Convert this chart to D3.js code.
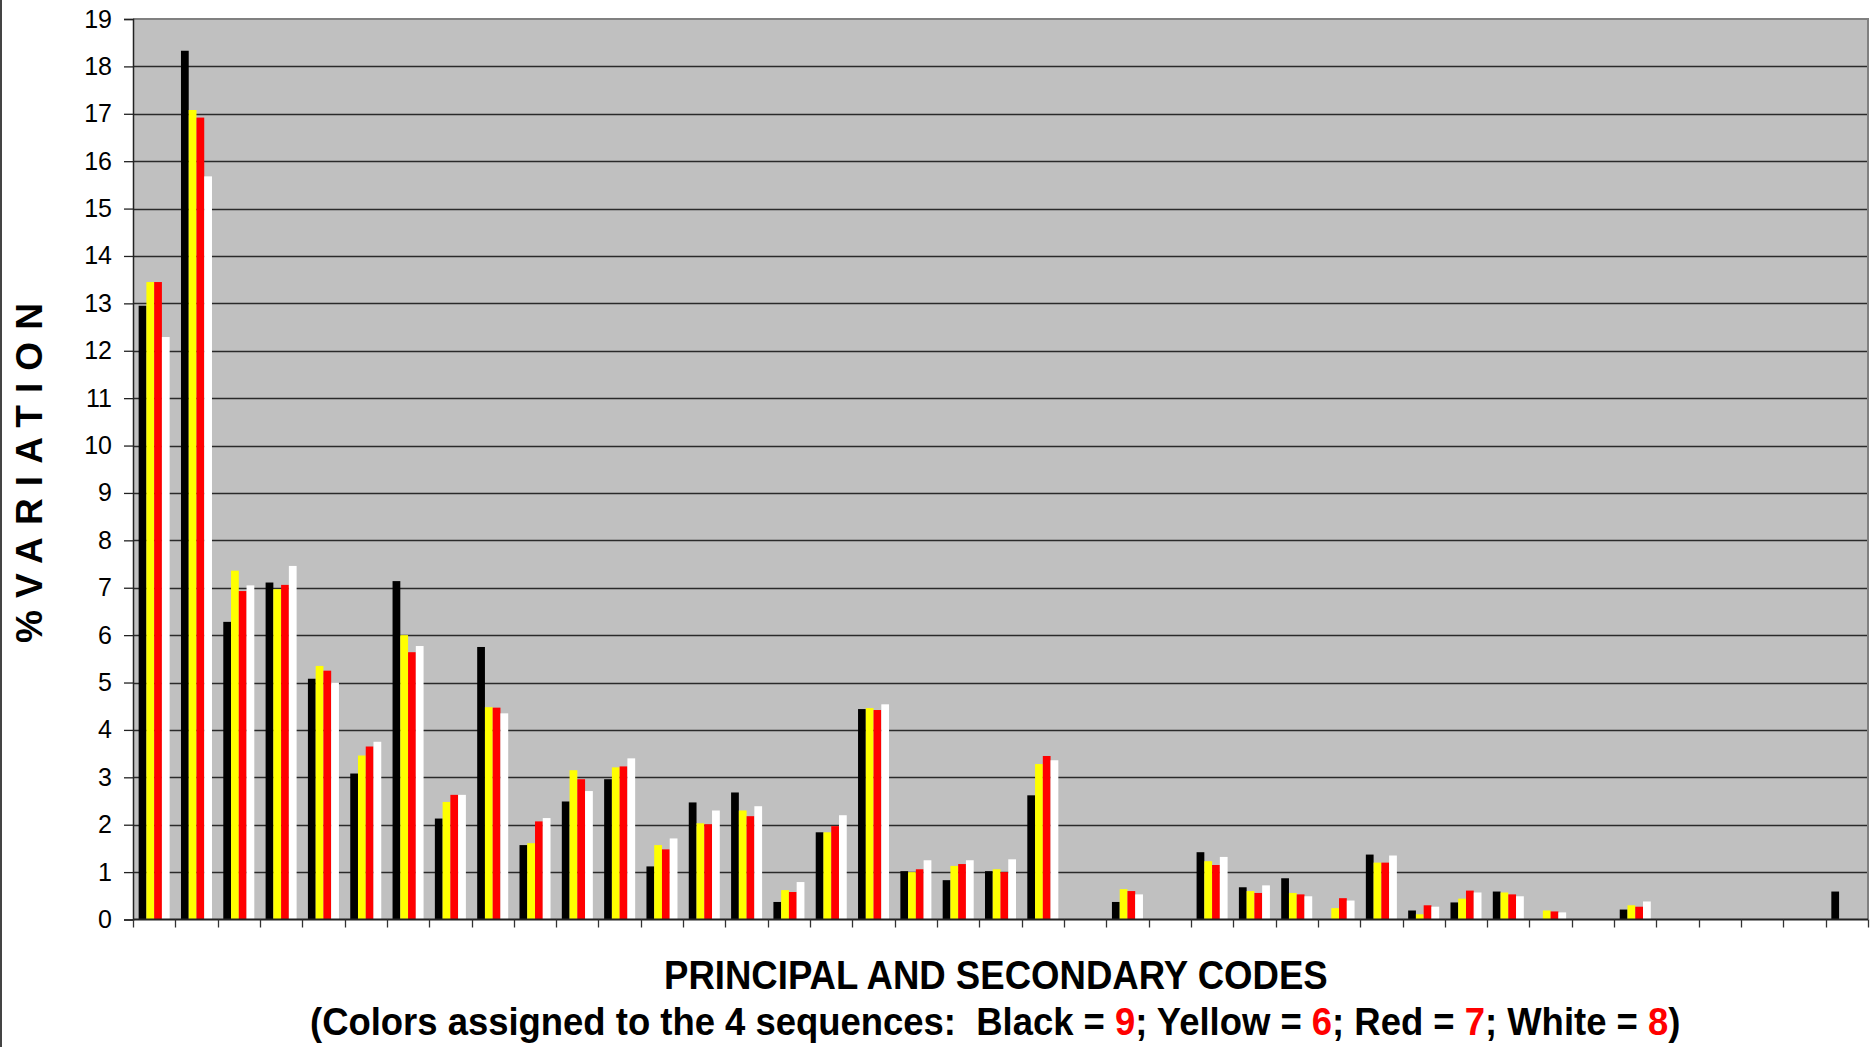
<!DOCTYPE html>
<html>
<head>
<meta charset="utf-8">
<script src="https://cdn.jsdelivr.net/npm/d3@7"></script>
<style>
  html, body { margin: 0; padding: 0; background: #ffffff; }
  svg { display: block; }
</style>
</head>
<body>
<svg id="chart" width="1872" height="1047"></svg>
<script>
// ---- data ----
const categories = d3.range(1, 42).map(i => "Code " + i);
const seriesNames = ["Black", "Yellow", "Red", "White"];
const seriesColors = ["#000000", "#FFFF00", "#FF0000", "#FFFFFF"];
const blackValues  = [12.95, 18.33, 6.28, 7.11, 5.08, 3.08, 7.14, 2.13, 5.75, 1.57, 2.49, 2.96, 1.12, 2.47, 2.68, 0.37, 1.84, 4.44, 1.02, 0.83, 1.02, 2.62, 0, 0.37, 0, 1.42, 0.68, 0.87, 0, 1.37, 0.19, 0.36, 0.59, 0, 0, 0.21, 0, 0, 0, 0, 0.59];
const yellowValues = [13.45, 17.08, 7.36, 6.97, 5.35, 3.46, 6.00, 2.48, 4.48, 1.61, 3.15, 3.21, 1.57, 2.03, 2.30, 0.62, 1.84, 4.46, 1.00, 1.13, 1.06, 3.28, 0, 0.64, 0, 1.23, 0.60, 0.56, 0.24, 1.20, 0.11, 0.44, 0.57, 0.19, 0, 0.30, 0, 0, 0, 0, 0];
const redValues    = [13.45, 16.92, 6.93, 7.06, 5.25, 3.65, 5.64, 2.63, 4.47, 2.07, 2.96, 3.23, 1.48, 2.01, 2.18, 0.58, 1.97, 4.42, 1.06, 1.17, 1.00, 3.45, 0, 0.60, 0, 1.15, 0.56, 0.53, 0.45, 1.20, 0.30, 0.61, 0.53, 0.17, 0, 0.27, 0, 0, 0, 0, 0];
const whiteValues  = [12.29, 15.68, 7.05, 7.46, 5.00, 3.75, 5.77, 2.63, 4.35, 2.14, 2.71, 3.40, 1.71, 2.30, 2.39, 0.79, 2.20, 4.54, 1.25, 1.25, 1.27, 3.36, 0, 0.53, 0, 1.32, 0.72, 0.49, 0.40, 1.35, 0.27, 0.57, 0.49, 0.15, 0, 0.38, 0, 0, 0, 0, 0];
const yTicks = d3.range(0, 20);
const xTitle = "PRINCIPAL AND SECONDARY CODES";
const yTitle = "%VARIATION";
const noteParts = [
  ["(Colors assigned to the 4 sequences:\u00A0\u00A0Black = ", "#000"], ["9", "#FF0000"],
  ["; Yellow = ", "#000"], ["6", "#FF0000"],
  ["; Red = ", "#000"], ["7", "#FF0000"],
  ["; White = ", "#000"], ["8", "#FF0000"], [")", "#000"]
];

const seriesValues = [blackValues, yellowValues, redValues, whiteValues];
const table = categories.map((c, i) => ({
  category: c,
  values: seriesNames.map((s, k) => ({ series: s, color: seriesColors[k], value: seriesValues[k][i] }))
}));

// ---- layout ----
const svg = d3.select("#chart");
const plotLeft = 133, plotRight = 1868, plotTop = 19, plotBottom = 919.5;

const x = d3.scaleBand().domain(categories).range([plotLeft, plotRight]).paddingInner(0.267).paddingOuter(0.1335);
const xs = d3.scaleBand().domain(seriesNames).range([0, x.bandwidth()]).padding(0);
const y = d3.scaleLinear().domain([0, 19]).range([plotBottom, plotTop]);

// page left border
svg.append("line").attr("x1", 1).attr("x2", 1).attr("y1", 0).attr("y2", 1047)
  .attr("stroke", "#444").attr("stroke-width", 2);

// plot background
svg.append("rect").attr("x", plotLeft).attr("y", plotTop).attr("width", plotRight - plotLeft).attr("height", plotBottom - plotTop)
  .attr("fill", "#C0C0C0");

// gridlines
svg.append("g").selectAll("line").data(yTicks.filter(t => t > 0 && t < 19)).join("line")
  .attr("x1", plotLeft).attr("x2", plotRight)
  .attr("y1", d => Math.round(y(d)) + 0.5).attr("y2", d => Math.round(y(d)) + 0.5)
  .attr("stroke", "#2a2a2a").attr("stroke-width", 1.3);

// bars
const groups = svg.append("g").selectAll("g").data(table).join("g")
  .attr("transform", d => `translate(${x(d.category)},0)`);
groups.selectAll("rect").data(d => d.values.filter(v => v.value > 0)).join("rect")
  .attr("x", d => xs(d.series))
  .attr("width", xs.bandwidth())
  .attr("y", d => y(d.value))
  .attr("height", d => y(0) - y(d.value))
  .attr("fill", d => d.color);

// plot border (top/right)
svg.append("path")
  .attr("d", `M${plotLeft},${plotTop}H${plotRight}V${plotBottom}`)
  .attr("fill", "none").attr("stroke", "#808080").attr("stroke-width", 2);

// y axis
const yAxis = svg.append("g").attr("transform", `translate(${plotLeft},0)`)
  .call(d3.axisLeft(y).tickValues(yTicks).tickFormat(d3.format("d")).tickSize(9).tickPadding(12));
yAxis.select(".domain").attr("stroke", "#222").attr("stroke-width", 1.5);
yAxis.selectAll(".tick line").attr("stroke", "#222").attr("stroke-width", 1.3);
yAxis.selectAll("text").attr("font-family", "'Liberation Sans', Arial, sans-serif")
  .attr("font-size", 25).attr("fill", "#000");

// x axis with ticks at category boundaries
const step = x.step();
const firstEdge = x(categories[0]) - x.paddingOuter() * step;
const boundaries = d3.range(0, categories.length + 1).map(i => firstEdge + i * step);
const xAxisG = svg.append("g");
xAxisG.append("line").attr("x1", plotLeft).attr("x2", plotRight).attr("y1", plotBottom).attr("y2", plotBottom)
  .attr("stroke", "#222").attr("stroke-width", 1.8);
xAxisG.selectAll("line.tick").data(boundaries).join("line").attr("class", "tick")
  .attr("x1", d => Math.round(d) + 0.5).attr("x2", d => Math.round(d) + 0.5)
  .attr("y1", plotBottom).attr("y2", plotBottom + 8)
  .attr("stroke", "#333").attr("stroke-width", 1.3);

// condensed text helper: natural text scaled horizontally to a target width
function condensedText(parts, x0, baseline, width, size) {
  const g = svg.append("g");
  const t = g.append("text")
    .attr("font-family", "'Liberation Sans Narrow', 'Arial Narrow', 'Liberation Sans', Arial, sans-serif")
    .attr("font-weight", "bold").attr("font-size", size);
  t.selectAll("tspan").data(parts).join("tspan").attr("fill", d => d[1]).text(d => d[0]);
  const natural = t.node().getComputedTextLength();
  const k = width / natural;
  g.attr("transform", `translate(${x0},${baseline}) scale(${k},1)`);
  return g;
}

condensedText([[xTitle, "#000"]], 664, 989, 664, 40);
condensedText(noteParts, 310, 1035, 1371, 38);

svg.append("text")
  .attr("transform", "translate(42,473) rotate(-90)")
  .attr("text-anchor", "middle")
  .attr("font-family", "'Liberation Sans', Arial, sans-serif")
  .attr("font-weight", "bold").attr("font-size", 37)
  .attr("textLength", 340).attr("lengthAdjust", "spacing")
  .attr("fill", "#000").text(yTitle);
</script>
</body>
</html>
